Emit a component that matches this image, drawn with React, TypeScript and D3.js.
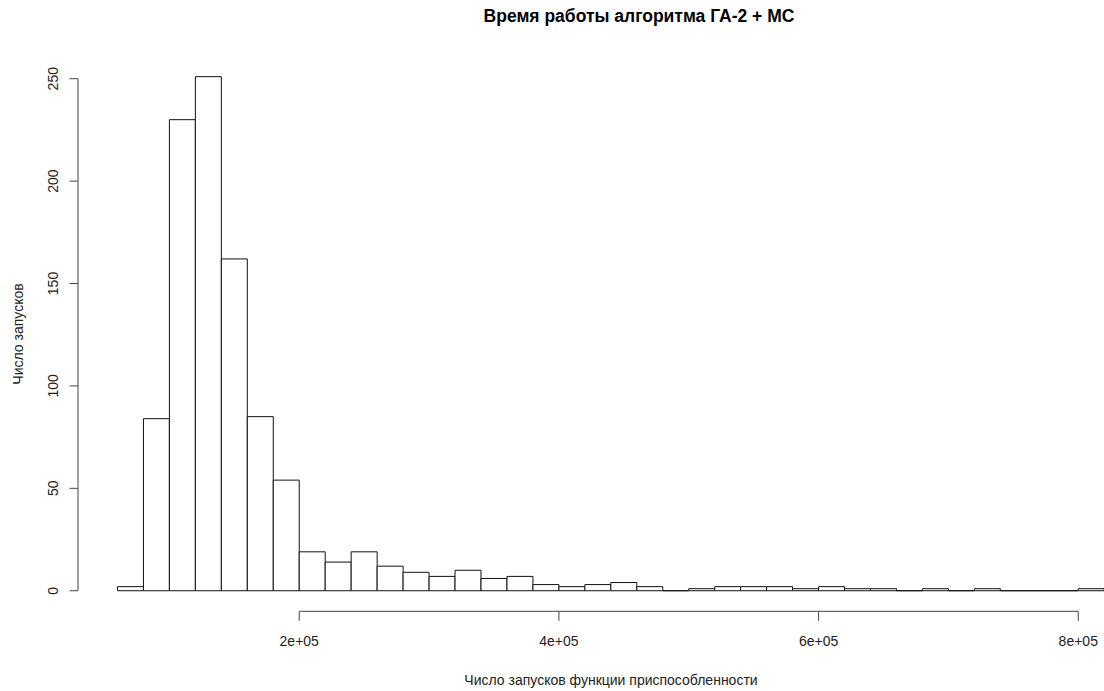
import * as d3 from 'd3';
import React, { useRef, useEffect } from 'react';

// histogram breaks (bin start) and counts
const binStart = [
  60000, 80000, 100000, 120000, 140000, 160000, 180000, 200000, 220000, 240000,
  260000, 280000, 300000, 320000, 340000, 360000, 380000, 400000, 420000, 440000,
  460000, 480000, 500000, 520000, 540000, 560000, 580000, 600000, 620000, 640000,
  660000, 680000, 700000, 720000, 740000, 760000, 780000, 800000,
];
const binWidth = 20000;
const counts = [
  2, 84, 230, 251, 162, 85, 54, 19, 14, 19,
  12, 9, 7, 10, 6, 7, 3, 2, 3, 4,
  2, 0, 1, 2, 2, 2, 1, 2, 1, 1,
  0, 1, 0, 1, 0, 0, 0, 1,
];
const xTicks = [200000, 400000, 600000, 800000];
const xTickLabels = ['2e+05', '4e+05', '6e+05', '8e+05'];
const yTicks = [0, 50, 100, 150, 200, 250];

const title = 'Время работы алгоритма ГА-2 + МС';
const xLabel = 'Число запусков функции приспособленности';
const yLabel = 'Число запусков';

function App() {
  const ref = useRef(null);
  const width = 1104;
  const height = 691;

  useEffect(() => {
    const svg = d3.select(ref.current);
    svg.selectAll('*').remove();

    // R style: data range padded by 4% on both sides
    const xMin = binStart[0];
    const xMax = binStart[binStart.length - 1] + binWidth;
    const xPad = (xMax - xMin) * 0.04;
    const yMax = d3.max(counts);
    const yPad = yMax * 0.04;

    const x = d3.scaleLinear()
      .domain([xMin - xPad, xMax + xPad])
      .range([78, 1143.7]);
    const y = d3.scaleLinear()
      .domain([-yPad, yMax + yPad])
      .range([611.3, 56.1]);

    const font = 'Liberation Sans, Arial, sans-serif';

    // bars drawn as closed paths so empty bins still leave a line on the baseline
    svg.append('g')
      .selectAll('path')
      .data(counts)
      .enter()
      .append('path')
      .attr('d', (d, i) => {
        const x0 = x(binStart[i]);
        const x1 = x(binStart[i] + binWidth);
        const p = d3.path();
        p.moveTo(x0, y(0));
        p.lineTo(x0, y(d));
        p.lineTo(x1, y(d));
        p.lineTo(x1, y(0));
        p.closePath();
        return p.toString();
      })
      .attr('fill', 'white')
      .attr('stroke', '#111')
      .attr('stroke-width', 1);

    // y axis
    const ya = svg.append('g').attr('stroke', '#444').attr('stroke-width', 1);
    ya.append('line')
      .attr('x1', x.range()[0]).attr('x2', x.range()[0])
      .attr('y1', y(yTicks[0])).attr('y2', y(yTicks[yTicks.length - 1]));
    ya.selectAll('line.t')
      .data(yTicks)
      .enter()
      .append('line')
      .attr('class', 't')
      .attr('x1', x.range()[0] - 8.5).attr('x2', x.range()[0])
      .attr('y1', (d) => y(d)).attr('y2', (d) => y(d));
    svg.append('g')
      .selectAll('text')
      .data(yTicks)
      .enter()
      .append('text')
      .attr('transform', (d) => `translate(57.5,${y(d)}) rotate(-90)`)
      .attr('text-anchor', 'middle')
      .attr('font-family', font)
      .attr('font-size', 14)
      .attr('fill', '#222')
      .text((d) => d);

    // x axis
    const xa = svg.append('g').attr('stroke', '#444').attr('stroke-width', 1);
    xa.append('line')
      .attr('x1', x(xTicks[0])).attr('x2', x(xTicks[xTicks.length - 1]))
      .attr('y1', y.range()[0]).attr('y2', y.range()[0]);
    xa.selectAll('line.t')
      .data(xTicks)
      .enter()
      .append('line')
      .attr('class', 't')
      .attr('x1', (d) => x(d)).attr('x2', (d) => x(d))
      .attr('y1', y.range()[0]).attr('y2', y.range()[0] + 9.5);
    svg.append('g')
      .selectAll('text')
      .data(xTicks)
      .enter()
      .append('text')
      .attr('x', (d) => x(d))
      .attr('y', 646)
      .attr('text-anchor', 'middle')
      .attr('font-family', font)
      .attr('font-size', 14)
      .attr('fill', '#222')
      .text((d, i) => xTickLabels[i]);

    // titles
    svg.append('text')
      .attr('x', 639)
      .attr('y', 22)
      .attr('text-anchor', 'middle')
      .attr('font-family', font)
      .attr('font-size', 17.5)
      .attr('font-weight', 'bold')
      .attr('fill', '#000')
      .text(title);
    svg.append('text')
      .attr('x', 611)
      .attr('y', 685)
      .attr('text-anchor', 'middle')
      .attr('font-family', font)
      .attr('font-size', 14)
      .attr('fill', '#222')
      .text(xLabel);
    svg.append('text')
      .attr('transform', `translate(23,334) rotate(-90)`)
      .attr('text-anchor', 'middle')
      .attr('font-family', font)
      .attr('font-size', 14)
      .attr('fill', '#222')
      .text(yLabel);
  }, []);

  return (
    <svg
      ref={ref}
      width={width}
      height={height}
      style={{ position: 'absolute', left: 0, top: 0, background: 'white' }}
    />
  );
}

export default App;
